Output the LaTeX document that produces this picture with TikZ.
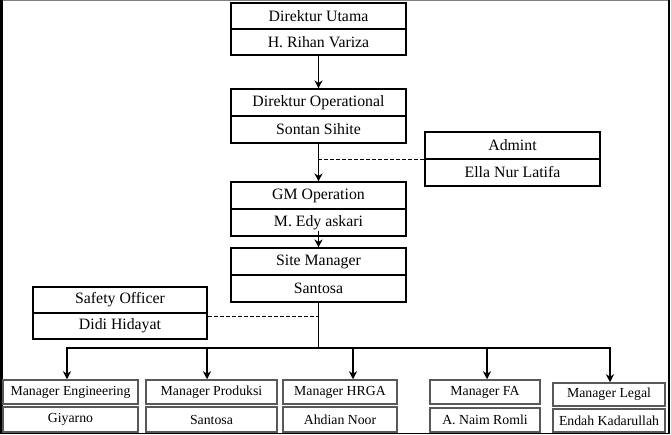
\documentclass[tikz,border=0pt]{standalone}
\usepackage{fontspec}
\setmainfont{Liberation Serif}
\usetikzlibrary{arrows.meta}
\tikzset{
  topbox/.style={draw=black, line width=1.1pt, minimum width=175pt, minimum height=26pt, inner sep=0pt, font=\fontsize{15.8}{17}\selectfont},
  botbox/.style={draw=black!65, line width=1.5pt, minimum height=24pt, inner sep=0pt, font=\fontsize{13.8}{15}\selectfont},
  conn/.style={line width=1.8pt},
  arr/.style={line width=1.8pt, -{Stealth[length=8pt,width=8pt,inset=2.5pt]}},
  dsh/.style={line width=1.8pt, dash pattern=on 4pt off 2pt}
}
\begin{document}
\begin{tikzpicture}[x=1pt,y=-1pt]
\useasboundingbox (0,0) rectangle (671,435);
% frame
\draw[black!50, line width=1pt] (0,0.5) -- (669,0.5);
\draw[black, line width=2.5pt] (1.25,0) -- (1.25,434);
\draw[black, line width=2pt] (668.5,0) -- (668.5,434);
\draw[black, line width=1.5pt] (0,433.5) -- (669,433.5);

% top chain
\node[topbox] (du1) at (318.5,16) {Direktur Utama};
\node[topbox] (du2) at (318.5,42) {H. Rihan Variza};
\node[topbox, minimum height=27pt] (do1) at (318.5,102.5) {Direktur Operational};
\node[topbox, minimum height=27pt] (do2) at (318.5,129.5) {Sontan Sihite};
\node[topbox, minimum height=27pt] (ad1) at (512.5,145.5) {Admint};
\node[topbox, minimum height=27pt] (ad2) at (512.5,172.5) {Ella Nur Latifa};
\node[topbox, minimum height=27pt] (gm1) at (318.5,195.5) {GM Operation};
\node[topbox, minimum height=27pt] (gm2) at (318.5,222.5) {M. Edy askari};
\node[topbox, minimum height=27pt] (sm1) at (318.5,261.5) {Site Manager};
\node[topbox, minimum height=27pt] (sm2) at (318.5,288.5) {Santosa};
\node[topbox, minimum width=174pt] (so1) at (120,300) {Safety Officer};
\node[topbox, minimum width=174pt] (so2) at (120,326) {Didi Hidayat};

% bottom row
\node[botbox, minimum width=135pt] (me1) at (70.5,392) {Manager Engineering};
\node[botbox, minimum width=135pt, minimum height=25pt] (me2) at (70.5,419.5) {Giyarno};
\node[botbox, minimum width=131pt] (mp1) at (211.5,392) {Manager Produksi};
\node[botbox, minimum width=131pt, minimum height=25pt] (mp2) at (211.5,419.5) {Santosa};
\node[botbox, minimum width=114pt] (mh1) at (340,392) {Manager HRGA};
\node[botbox, minimum width=114pt, minimum height=25pt] (mh2) at (340,419.5) {Ahdian Noor};
\node[botbox, minimum width=110pt] (mf1) at (485,392) {Manager FA};
\node[botbox, minimum width=110pt] (mf2) at (485,420) {A. Naim Romli};
\node[botbox, minimum width=112pt, minimum height=23pt] (ml1) at (609,394.5) {Manager Legal};
\node[botbox, minimum width=112pt, minimum height=23pt] (ml2) at (609,420.5) {Endah Kadarullah};

% connectors
\draw[arr] (du2.south) -- (do1.north);
\draw[arr] (do2.south) -- (gm1.north);
\draw[dsh] (ad1.south west) -- (ad1.south west -| do2.south);
\draw[arr] ([yshift=6pt]gm2.south) -- (sm1.north);

\coordinate (bus) at (318.5,348);
\draw[conn] (sm2.south) -- (bus);
\draw[dsh] ([yshift=-3pt]so1.south east) -- ([yshift=-3pt]so1.south east -| sm2.south);

\coordinate (b1) at (67,348);
\coordinate (b2) at (207,348);
\coordinate (b3) at (353,348);
\coordinate (b4) at (487,348);
\coordinate (b5) at (610,348);
\draw[conn] ([xshift=-0.9pt]b1) -- ([xshift=0.9pt]b5);
\draw[arr] (b1) -- (b1 |- me1.north);
\draw[arr] (b2) -- (b2 |- mp1.north);
\draw[arr] (b3) -- (b3 |- mh1.north);
\draw[arr] (b4) -- (b4 |- mf1.north);
\draw[arr] (b5) -- (b5 |- ml1.north);
\end{tikzpicture}
\end{document}
